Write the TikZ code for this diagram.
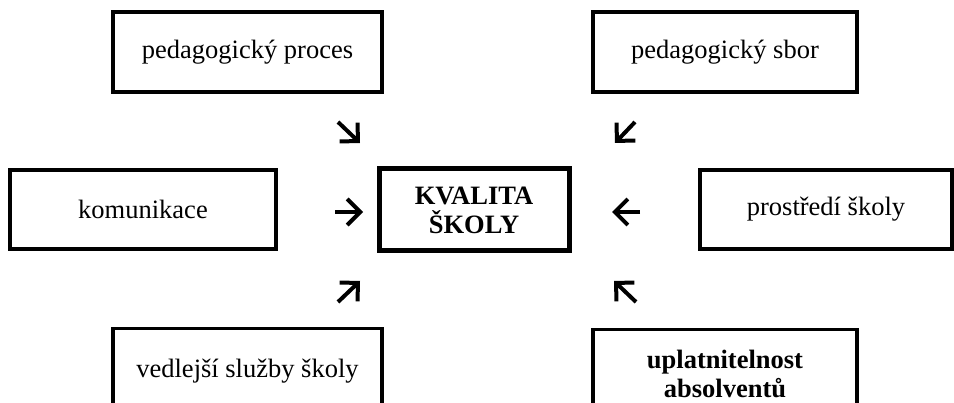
\documentclass[tikz,border=0pt]{standalone}
\usepackage{fontspec}
\setmainfont{Liberation Serif}
\usetikzlibrary{arrows.meta}
\begin{document}
\begin{tikzpicture}[x=1pt,y=-1pt,
  box/.style={draw, line width=3.5pt, inner sep=0pt},
  hub/.style={draw, line width=5pt, inner sep=0pt},
  lbl/.style={font=\fontsize{26.5}{29}\selectfont, align=center, inner sep=0pt},
  lblbf/.style={font=\fontsize{26.5}{29}\selectfont\bfseries, align=center, inner sep=0pt},
  flow/.style={line width=4pt, -{Straight Barb[length=13pt,width=26pt]}}]
\useasboundingbox (0,0) rectangle (954,403);
\fill[white] (0,0) rectangle (954,403);
\clip (0,0) rectangle (954,403);

% factor boxes
\node[box, lbl, minimum width=269pt, minimum height=80pt] (pp) at (247.5,52) {pedagogický proces};
\node[box, lbl, minimum width=264pt, minimum height=80pt] (ps) at (725,52) {pedagogický sbor};
\node[box, lbl, minimum width=266pt, minimum height=79pt] (kom) at (143,209.5) {komunikace};
\node[box, lbl, minimum width=252pt, minimum height=79pt] (pr) at (826,209.5) {prostředí školy};

% bottom boxes run past the lower edge
\node[box, anchor=north, minimum width=269pt, minimum height=100pt] (vs) at (247.5,327) {};
\node[lbl, anchor=base] (vst) at (vs.north |- 0,378) {vedlejší služby školy};
\node[box, anchor=north, minimum width=264pt, minimum height=100pt] (ua) at (725,328) {};
\node[lblbf] (uat) at (ua.north |- 0,374) {uplatnitelnost\\absolventů};

% central box
\node[hub, lblbf, minimum width=190pt, minimum height=82pt] (ks) at (474,210) {KVALITA\\ŠKOLY};

% arrows pointing to the centre
\coordinate (a1s) at (338,122); \coordinate (a1e) at (360,143);
\coordinate (a2s) at (635,122); \coordinate (a2e) at (615,143);
\coordinate (a3s) at (335,212); \coordinate (a3e) at (363,212);
\coordinate (a4s) at (640,212); \coordinate (a4e) at (612,212);
\coordinate (a5s) at (338,302); \coordinate (a5e) at (360,281);
\coordinate (a6s) at (636,302); \coordinate (a6e) at (614,281);
\draw[flow] (a1s) -- (a1e);
\draw[flow] (a2s) -- (a2e);
\draw[flow] (a3s) -- (a3e);
\draw[flow] (a4s) -- (a4e);
\draw[flow] (a5s) -- (a5e);
\draw[flow] (a6s) -- (a6e);
\end{tikzpicture}
\end{document}
